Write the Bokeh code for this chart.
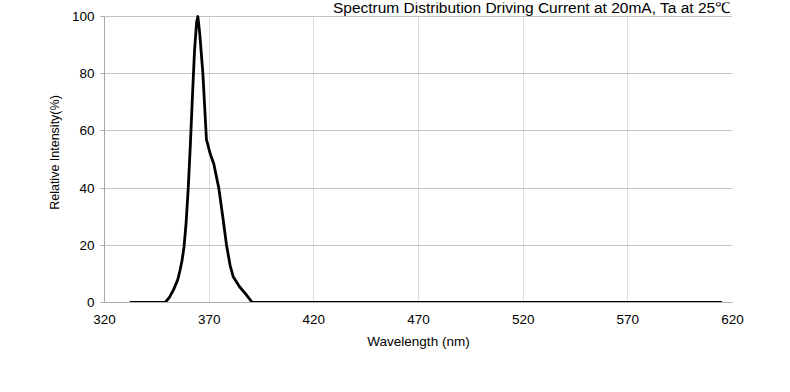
from bokeh.plotting import figure
from bokeh.models import Range1d, FixedTicker, Label
from bokeh.embed import file_html
from bokeh.resources import INLINE

# Data
wavelength = [332, 349, 351, 353, 355, 356, 357, 358, 359, 360, 361, 362, 363, 364, 364.6,
              365.5, 367, 368.7, 370.5, 372.2, 374.6, 376.5, 378.3, 380, 381.5, 384.5, 387.4, 390.6, 615]
intensity = [0, 0, 1.8, 4.5, 8, 11, 14.5, 19.5, 28, 40, 55, 72, 88, 98, 100,
             94, 80, 57, 52, 48.5, 40, 30, 20, 13, 9, 5.5, 3, 0, 0]

x_ticks = [320, 370, 420, 470, 520, 570, 620]
y_ticks = [0, 20, 40, 60, 80, 100]
title_text = "Spectrum Distribution Driving Current at 20mA, Ta at 25\u2103"
x_label = "Wavelength (nm)"
y_label = "Relative Intensity(%)"

FONT = "Liberation Sans"
Y_MAX = 100
Y_VIEW_TOP = 104.9   # headroom above the 100 % line for the title

p = figure(width=774, height=376, output_backend="svg", toolbar_location=None,
           x_range=Range1d(320, 620), y_range=Range1d(0, Y_VIEW_TOP),
           min_border_left=104, min_border_right=42, min_border_top=2, min_border_bottom=74)
p.outline_line_color = None
p.background_fill_color = "white"

# grids
p.xgrid.ticker = FixedTicker(ticks=x_ticks)
p.ygrid.ticker = FixedTicker(ticks=y_ticks)
p.xgrid.grid_line_color = "#dcdcdc"
p.ygrid.grid_line_color = "#c4c4c4"
p.xgrid.grid_line_width = 1
p.ygrid.grid_line_width = 1
xg = p.xgrid[0]
if "cross_bounds" in xg.properties():
    xg.cross_bounds = (0, Y_MAX)
else:
    xg.visible = False
    p.segment(x0=x_ticks, y0=[0] * len(x_ticks), x1=x_ticks, y1=[Y_MAX] * len(x_ticks),
              line_color="#dcdcdc", line_width=1, level="underlay")

p.line(wavelength, intensity, line_color="black", line_width=2.8, line_join="round")

# title, right-aligned above the 100 % line
title = Label(x=619, y=103.0, text=title_text,
              text_align="right", text_baseline="alphabetic",
              text_font=FONT, text_font_size="15.5px", text_color="black")
p.add_layout(title)

# x axis
p.xaxis.ticker = FixedTicker(ticks=x_ticks)
p.xaxis.axis_label = x_label
p.xaxis.axis_line_color = "#b0b0b0"
p.xaxis.major_tick_line_color = None
p.xaxis.minor_tick_line_color = None
p.xaxis.major_tick_out = 0
p.xaxis.major_tick_in = 0
p.xaxis.major_label_standoff = 12
p.xaxis.axis_label_standoff = 7
p.xaxis.major_label_text_font = FONT
p.xaxis.major_label_text_font_size = "13.5px"
p.xaxis.major_label_text_color = "black"
p.xaxis.axis_label_text_font = FONT
p.xaxis.axis_label_text_font_size = "13.5px"
p.xaxis.axis_label_text_font_style = "normal"
p.xaxis.axis_label_text_color = "black"

# y axis
p.yaxis.ticker = FixedTicker(ticks=y_ticks)
p.yaxis.bounds = (0, Y_MAX)
p.yaxis.axis_label = y_label
p.yaxis.axis_line_color = "#a8a8a8"
p.yaxis.major_tick_line_color = "#a8a8a8"
p.yaxis.minor_tick_line_color = None
p.yaxis.major_tick_out = 4
p.yaxis.major_tick_in = 0
p.yaxis.major_label_standoff = 6
p.yaxis.axis_label_standoff = 7
p.yaxis.major_label_text_font = FONT
p.yaxis.major_label_text_font_size = "13.5px"
p.yaxis.major_label_text_color = "black"
p.yaxis.axis_label_text_font = FONT
p.yaxis.axis_label_text_font_size = "12.5px"
p.yaxis.axis_label_text_font_style = "normal"
p.yaxis.axis_label_text_color = "black"

open("out.html", "w").write(file_html(p, INLINE))
